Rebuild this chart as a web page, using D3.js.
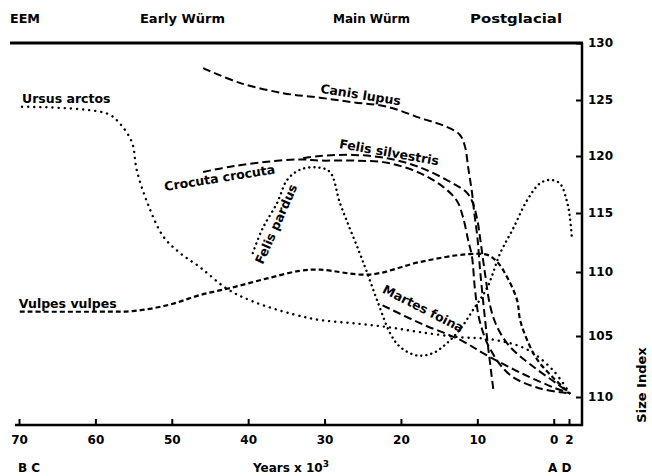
<!DOCTYPE html>
<html>
<head>
<meta charset="utf-8">
<script src="https://cdn.jsdelivr.net/npm/d3@7"></script>
<style>
  body { margin: 0; background: #fff; }
  svg text { font-family: "DejaVu Sans", sans-serif; font-weight: bold; fill: #000; }
</style>
</head>
<body>
<svg id="chart" width="652" height="476"></svg>
<script>
// --- Data (years x 10^3 BP, size index) ---
const periods = ["EEM", "Early Würm", "Main Würm", "Postglacial"];

const xTicks = [70, 60, 50, 40, 30, 20, 10, 0, -2];
const xTickLabels = ["70", "60", "50", "40", "30", "20", "10", "0", "2"];
const yTicks = [100, 105, 110, 115, 120, 125, 130];
const yTickLabels = ["110", "105", "110", "115", "120", "125", "130"];

const ursusArctos = [[69.6,124.4],[58.5,123.8],[56.8,122.9],[55.2,121.2],[54.6,118.8],[53.2,115.9],[51.1,113.0],[48.9,111.6],[46.3,110.4],[42.8,108.7],[39.4,107.7],[34.1,106.7],[30.6,106.25],[26.3,106.0],[21.8,105.7],[17.5,105.3],[12.3,104.9],[7.9,104.7],[3.5,103.9],[0.1,102.2],[-2.1,100.3]];
const canisLupus = [[45.9,127.8],[41.1,126.5],[35.4,125.6],[30.6,125.2],[26.3,124.8],[21.8,124.4],[17.5,123.4],[14.0,122.6],[12.3,121.9],[11.6,120.8],[11.2,119.0],[10.7,116.8],[10.4,115.0],[10.0,113.0],[9.6,109.9],[8.7,104.7],[7.9,100.6]];
const felisSilvestris = [[32.8,119.8],[30.6,120.0],[26.3,120.1],[21.8,119.8],[17.5,119.0],[13.2,117.6],[11.4,116.8],[10.6,115.9],[10.0,114.4],[9.6,112.7],[9.0,109.9],[8.3,107.3],[7.4,105.7],[5.7,104.1],[2.7,102.5],[-0.4,101.1],[-2.1,100.3]];
const crocutaCrocuta = [[45.9,118.6],[42.0,119.1],[37.5,119.5],[33.2,119.7],[30.6,119.6],[26.3,119.6],[21.8,119.4],[17.5,118.5],[14.5,117.3],[12.7,116.1],[11.9,114.7],[11.2,112.7],[10.7,111.3],[10.3,108.6],[9.7,106.2],[8.3,103.9],[5.7,101.8],[1.8,100.7],[-2.1,100.3]];
const felisPardus = [[39.4,111.6],[38.1,113.7],[36.2,115.9],[34.9,117.9],[33.2,118.8],[31.0,119.0],[29.3,118.6],[28.0,115.9],[26.7,113.7],[25.4,111.6],[24.4,109.9],[23.0,107.6],[21.4,105.2],[20.1,104.1],[17.9,103.4],[15.8,103.6],[14.0,104.4],[12.3,105.5],[10.6,107.0],[8.7,108.8],[7.0,111.6],[5.3,113.7],[3.5,116.1],[1.8,117.6],[0.5,117.9],[-0.8,117.6],[-1.7,116.1],[-2.1,114.7],[-2.4,112.7]];
const vulpesVulpes = [[69.9,106.9],[59.4,106.9],[55.1,106.95],[50.6,107.4],[46.3,108.2],[42.0,108.8],[37.5,109.5],[33.2,110.1],[30.6,110.2],[24.1,109.8],[17.5,110.85],[11.4,111.5],[8.7,111.45],[7.4,110.85],[6.1,109.6],[4.8,107.8],[4.4,106.25],[3.5,104.7],[2.2,103.1],[0.1,101.6],[-2.1,100.3]];
const martesFoina = [[22.4,107.4],[17.5,106.0],[12.3,104.7],[8.7,103.4],[4.4,102.0],[0.1,100.8],[-2.1,100.3]];

const series = [
  { name: "Ursus arctos", data: ursusArctos, style: "dot" },
  { name: "Canis lupus", data: canisLupus, style: "dash" },
  { name: "Felis silvestris", data: felisSilvestris, style: "dash" },
  { name: "Crocuta crocuta", data: crocutaCrocuta, style: "dash" },
  { name: "Felis pardus", data: felisPardus, style: "fine" },
  { name: "Vulpes vulpes", data: vulpesVulpes, style: "short" },
  { name: "Martes foina", data: martesFoina, style: "dash" }
];

// label placement: anchor point in data coords + pixel offset + rotation
const labelPos = {
  "Ursus arctos": { at: [69.6, 124.4], dx: 0, dy: -4, rot: 0 },
  "Canis lupus": { at: [30.6, 125.2], dx: 0, dy: -5, rot: 9 },
  "Felis silvestris": { at: [26.3, 120.1], dx: -14, dy: -7, rot: 10 },
  "Crocuta crocuta": { at: [45.9, 118.6], dx: -38, dy: 19, rot: -9 },
  "Felis pardus": { at: [39.4, 111.6], dx: 10, dy: 12, rot: -66 },
  "Vulpes vulpes": { at: [69.9, 106.9], dx: -1, dy: -4, rot: 0 },
  "Martes foina": { at: [22.4, 107.4], dx: -1, dy: -13, rot: 27 }
};

const dashes = { dot: "0.1 6", dash: "8 4", fine: "0.1 5", short: "5 3" };

// --- Scales ---
const svg = d3.select("#chart");
const x = d3.scaleLinear().domain([70, -2]).range([19, 569]);
const y = d3.scaleLinear().domain(yTicks).range([397, 336, 272, 213, 156, 100, 43]);

const frameRight = 582, frameTop = 43, frameBottom = 425;

// frame lines
svg.append("line").attr("x1", 10).attr("x2", frameRight + 1).attr("y1", frameTop).attr("y2", frameTop)
  .attr("stroke", "#000").attr("stroke-width", 3);
svg.append("line").attr("x1", 15).attr("x2", frameRight + 1).attr("y1", frameBottom).attr("y2", frameBottom)
  .attr("stroke", "#000").attr("stroke-width", 2.5);
svg.append("line").attr("x1", frameRight).attr("x2", frameRight).attr("y1", frameTop).attr("y2", frameBottom + 1)
  .attr("stroke", "#000").attr("stroke-width", 2.5);

// axes
const xAxis = svg.append("g").attr("transform", `translate(0,${frameBottom})`)
  .call(d3.axisBottom(x).tickValues(xTicks).tickSize(-6).tickPadding(10)
    .tickFormat((d, i) => xTickLabels[i]));
xAxis.select(".domain").remove();
xAxis.selectAll(".tick line").attr("stroke-width", 2);
xAxis.selectAll("text").style("font-size", "12px").style("font-family", "DejaVu Sans").style("font-weight", "bold");

const yAxis = svg.append("g").attr("transform", `translate(${frameRight},0)`)
  .call(d3.axisRight(y).tickValues(yTicks).tickSize(-6).tickPadding(6)
    .tickFormat((d, i) => yTickLabels[i]));
yAxis.select(".domain").remove();
yAxis.selectAll(".tick line").attr("stroke-width", 2);
yAxis.selectAll("text").style("font-size", "12px").style("font-family", "DejaVu Sans").style("font-weight", "bold")
  .attr("text-anchor", "start");

// period headers
svg.selectAll(".period").data(periods).enter().append("text")
  .attr("class", "period")
  .attr("x", (d, i) => [10, 140, 333, 470][i])
  .attr("y", 23)
  .style("font-size", "13px")
  .attr("textLength", (d, i) => [30, 85, 77, 92][i])
  .attr("lengthAdjust", "spacingAndGlyphs")
  .text(d => d);

// axis titles
svg.append("text").attr("x", 18).attr("y", 472).style("font-size", "12px").text("B C");
svg.append("text").attr("x", 548).attr("y", 472).style("font-size", "12px").text("A D");
const yt = svg.append("text").attr("x", 291).attr("y", 472).attr("text-anchor", "middle").style("font-size", "12px");
yt.append("tspan").text("Years x 10");
yt.append("tspan").attr("dy", -5).style("font-size", "9px").text("3");
svg.append("text").attr("transform", "translate(646,385) rotate(-90)")
  .attr("text-anchor", "middle").style("font-size", "13px").text("Size Index");

// curves
const line = d3.line().x(d => x(d[0])).y(d => y(d[1])).curve(d3.curveCatmullRom.alpha(0.5));
svg.selectAll(".curve").data(series).enter().append("path")
  .attr("class", "curve")
  .attr("d", d => line(d.data))
  .attr("fill", "none")
  .attr("stroke", "#000")
  .attr("stroke-width", d => d.style === "dash" ? 2 : (d.style === "short" ? 2.2 : 2.4))
  .attr("stroke-linecap", d => (d.style === "dot" || d.style === "fine") ? "round" : "butt")
  .attr("stroke-dasharray", d => dashes[d.style]);

// species labels
svg.selectAll(".lbl").data(series).enter().append("text")
  .attr("class", "lbl")
  .attr("transform", d => {
    const p = labelPos[d.name];
    return `translate(${x(p.at[0]) + p.dx},${y(p.at[1]) + p.dy}) rotate(${p.rot})`;
  })
  .style("font-size", "12.5px")
  .text(d => d.name);
</script>
</body>
</html>
